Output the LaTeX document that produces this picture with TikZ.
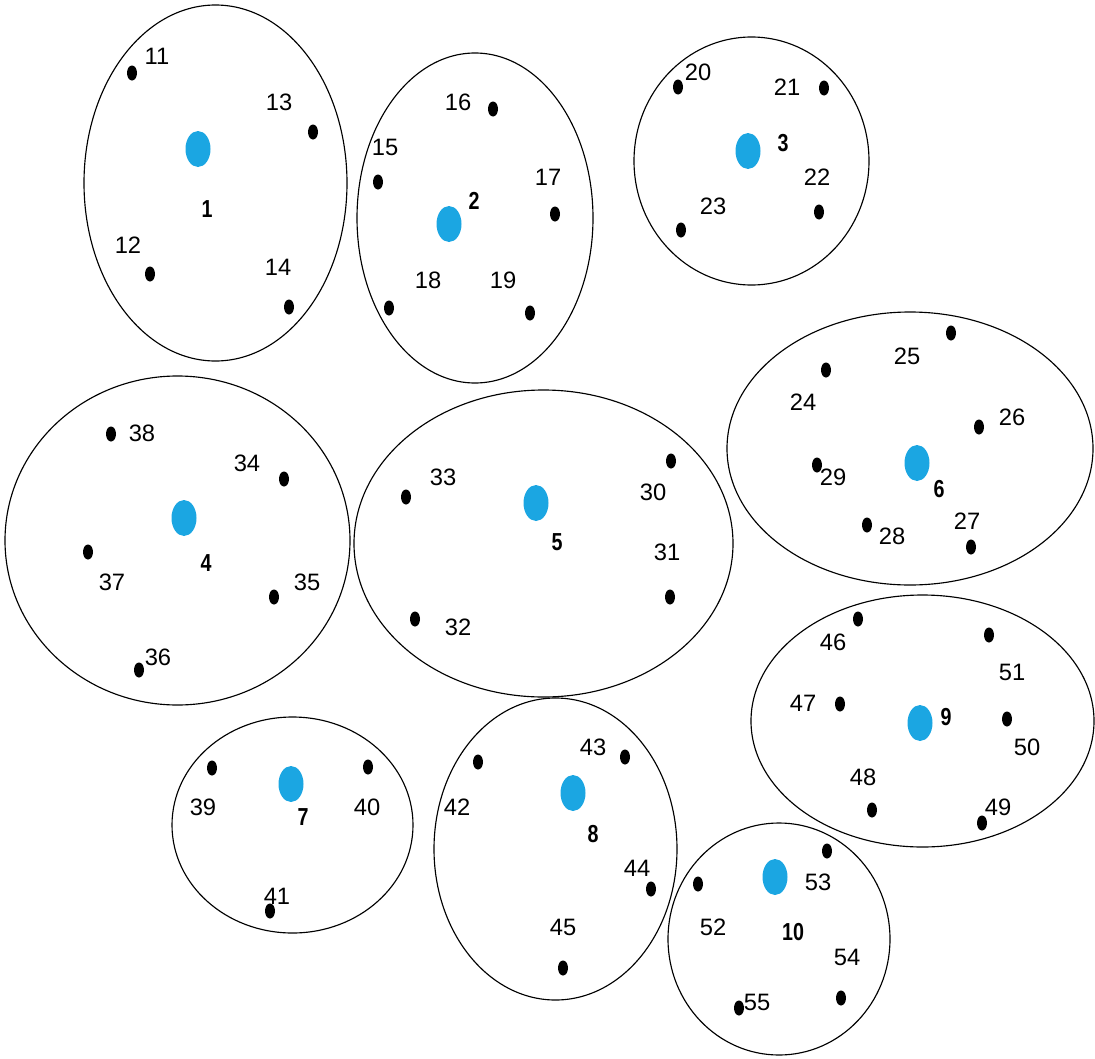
\documentclass[tikz,border=0pt]{standalone}
\usepackage{fontspec}
\setmainfont{Liberation Sans}
\usepackage{graphicx}
\usepackage{xcolor}
\usepackage{tikz}
\usetikzlibrary{positioning}
\definecolor{centreblue}{RGB}{27,166,226}
\newcommand{\narrowbf}[1]{\scalebox{0.8}[1]{\fontsize{14}{16}\selectfont\bfseries #1}}

\begin{document}
\begin{tikzpicture}[x=0.02cm,y=-0.02cm,
    every node/.style={font=\fontsize{13.5}{15}\selectfont,inner sep=0pt},
    cluster/.style={line width=0.65pt},
    member/.style={fill=black},
    centre/.style={fill=centreblue}]
  \useasboundingbox (0,0) rectangle (1095,1058);
  % cluster outlines
  \foreach \cx/\cy/\rx/\ry in {215.5/183/131.5/178, 475/218/118/165, 751.5/161/117.5/124,
      177.5/540.5/172.5/164.5, 543.5/543.5/189.5/153.5, 910/448.5/183/136.5,
      292.5/825/120.5/108, 555.5/849/121.5/151, 922.5/721/171.5/126, 779/939/111/116}
    \draw[cluster] (\cx,\cy) ellipse [x radius=\rx, y radius=\ry];
  % cluster centres
  \foreach \t/\px/\py/\lx/\ly in {1/198/149/207/209, 2/449/224/474/201, 3/748/151/783/143,
      4/184/518/206/563, 5/536/503/557/542, 6/917/463/939/489, 7/291/784/303/817,
      8/573/793/593/834, 9/920/723/946/717, 10/775/877/793/932}
  {
    \coordinate (c\t) at (\px,\py);
    \fill[centre] (c\t) ellipse [x radius=12.5, y radius=18];
    \node (k\t) at (\lx,\ly) {\narrowbf{\t}};
  }
  % members
  \foreach \t/\px/\py/\lx/\ly in {11/132/73/157/56, 12/150/274/128/245, 13/313/132/279/102,
      14/289/307/278/267, 15/378/182/385/147, 16/493/109/458/102, 17/555/214/548/177,
      18/389/308/428/280, 19/530/313/503/280, 20/678/87/698/72, 21/824/88/787/87,
      22/819/212/817/177, 23/681/230/713/206, 24/826/370/803/402, 25/951/333/907/356,
      26/979/427/1012/417, 27/971/547/967/521, 28/867/525/892/536, 29/817/465/833/477,
      30/671/461/653/492, 31/670/597/667/552, 32/415/619/458/627, 33/406/497/443/477,
      34/284/479/247/463, 35/274/597/307/582, 36/139/670/158/657, 37/88/552/112/582,
      38/111/434/142/433, 39/212/768/203/807, 40/368/767/367/807, 41/270/911/277/896,
      42/478/762/457/807, 43/625/757/593/747, 44/651/889/637/868, 45/563/968/563/927,
      46/858/619/833/642, 47/840/704/803/703, 48/872/810/863/777, 49/982/823/998/807,
      50/1007/719/1027/747, 51/989/635/1012/672, 52/698/884/713/927, 53/827/851/818/882,
      54/841/998/847/957, 55/739/1008/757/1002}
  {
    \coordinate (d\t) at (\px,\py);
    \fill[member] (d\t) ellipse [x radius=5, y radius=7.5];
    \node (n\t) at (\lx,\ly) {\t};
  }
\end{tikzpicture}
\end{document}
